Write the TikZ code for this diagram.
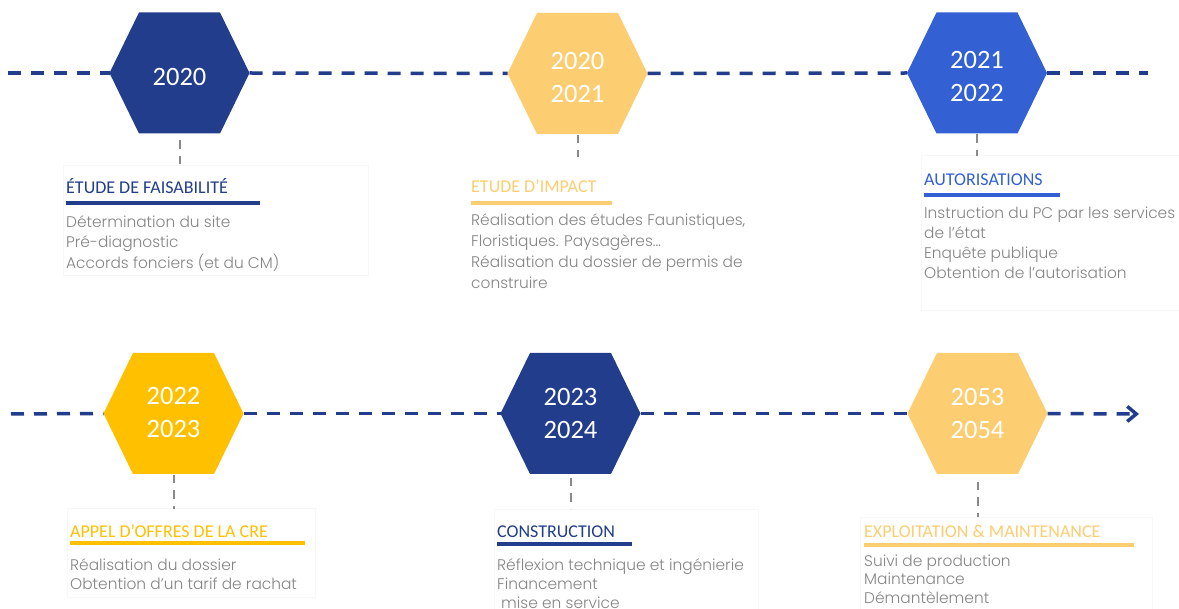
\documentclass[tikz,border=0pt]{standalone}
\usepackage{fontspec}
\setmainfont{Carlito}
\newfontfamily\bodyfont{Poppins Light}
\usetikzlibrary{arrows.meta,calc}
\definecolor{navy}{HTML}{213D8B}
\definecolor{sand}{HTML}{FDCD72}
\definecolor{royal}{HTML}{3360D3}
\definecolor{gold}{HTML}{FFC000}
\definecolor{linkgray}{HTML}{8A8A8A}
\definecolor{bodygray}{HTML}{858585}
\newcommand\hexa[6]{%
  \node[hexframe] (#1) at (#2,#3) {};
  \fill[#4] (#1.west) -- ([xshift=29.5pt]#1.north west) -- ([xshift=-29.5pt]#1.north east)
    -- (#1.east) -- ([xshift=-29.5pt]#1.south east) -- ([xshift=29.5pt]#1.south west) -- cycle;
  \node[yeartext] (#1y) at ([yshift=#6]#1.center) {#5};
}
\newcommand\bodylines[2]{{\bodyfont\fontsize{15.4}{#1}\selectfont\begin{tabular}[t]{@{}l@{}}#2\end{tabular}}}
\tikzset{
  timeline/.style={draw=navy,line width=3.5pt,dash pattern=on 13pt off 10pt},
  connector/.style={draw=linkgray,line width=2pt,dash pattern=on 8.5pt off 7pt},
  hexframe/.style={minimum width=140pt,minimum height=121pt,inner sep=0pt,outer sep=0pt},
  yeartext/.style={text=white,font=\fontsize{26.5}{33}\selectfont,align=center,inner sep=0pt},
  titletext/.style={anchor=base west,inner sep=0pt,font=\fontsize{18}{20}\selectfont},
  bodytext/.style={anchor=base west,inner sep=0pt,text=bodygray},
  bar/.style={line width=4pt},
  faint/.style={draw=black!3,line width=0.6pt}
}
\begin{document}
\begin{tikzpicture}[x=1pt,y=-1pt]
\useasboundingbox[fill=white] (0,0) rectangle (1179,609);
% faint frames
\draw[faint] (63,165) rectangle (368,275);
\draw[faint] (921,155) rectangle (1190,310);
\draw[faint] (67,508) rectangle (315,597);
\draw[faint] (494,509) rectangle (758,620);
\draw[faint] (860,517) rectangle (1152,620);
% hexagons
\hexa{h1}{179.5}{73}{navy}{2020}{-3.5pt}
\hexa{h2}{577.5}{73.5}{sand}{2020\\2021}{-3.5pt}
\hexa{h3}{977}{73}{royal}{2021\\2022}{-3.5pt}
\hexa{h4}{173.5}{413.5}{gold}{2022\\2023}{1.5pt}
\hexa{h5}{570.5}{413.5}{navy}{2023\\2024}{0pt}
\hexa{h6}{977.5}{413.5}{sand}{2053\\2054}{0pt}
% timelines
\coordinate (s1) at (8,73);
\coordinate (e1) at (1148,73);
\coordinate (s2) at (11,414);
\coordinate (e2) at (1139,414);
\draw[timeline] (s1) -- (h1.west);
\draw[timeline] (h1.east) -- (h2.west);
\draw[timeline] (h2.east) -- (h3.west);
\draw[timeline] (h3.east) -- (e1);
\draw[timeline] (s2) -- (h4.west);
\draw[timeline] (h4.east) -- (h5.west);
\draw[timeline] (h5.east) -- (h6.west);
\draw[timeline,-{Straight Barb[length=9pt,width=15pt]}] (h6.east) -- (e2);
% titles
\node[titletext,text=navy] (t1) at (66,194) {ÉTUDE DE FAISABILITÉ};
\node[titletext,text=sand] (t2) at (471,193) {ETUDE D’IMPACT};
\node[titletext,text=royal] (t3) at (924,186) {AUTORISATIONS};
\node[titletext,text=gold] (t4) at (70,537) {APPEL D’OFFRES DE LA CRE};
\node[titletext,text=navy] (t5) at (497,537) {CONSTRUCTION};
\node[titletext,text=sand] (t6) at (864,538) {EXPLOITATION \& MAINTENANCE};
% bars
\draw[bar,navy] (66,203) -- (260,203);
\draw[bar,sand] (471,203) -- (612,203);
\draw[bar,royal] (924,195) -- (1060,195);
\draw[bar,gold] (70,543) -- (305,543);
\draw[bar,navy] (497,544) -- (632,544);
\draw[bar,sand] (864,545) -- (1134,545);
% connectors
\coordinate (c1) at ($(h1.south)+(0,31)$);
\coordinate (c2) at ($(h2.south)+(0,23)$);
\coordinate (c3) at ($(h3.south)+(0,23)$);
\coordinate (c4) at ($(h4.south)+(0,35)$);
\coordinate (c5) at ($(h5.south)+(0,35)$);
\coordinate (c6) at ($(h6.south)+(0,43)$);
\draw[connector,shorten <=7pt] (h1.south) -- (c1);
\draw[connector,shorten <=1pt] (h2.south) -- (c2);
\draw[connector,shorten <=1pt] (h3.south) -- (c3);
\draw[connector,shorten <=1pt] (h4.south) -- (c4);
\draw[connector,shorten <=4pt] (h5.south) -- (c5);
\draw[connector,shorten <=8pt] (h6.south) -- (c6);
% body texts
\node[bodytext] (d1) at (66,228) {\bodylines{20}{Détermination du site\\Pré-diagnostic\\Accords fonciers (et du CM)}};
\node[bodytext] (d2) at (471,226) {\bodylines{20.7}{Réalisation des études Faunistiques,\\Floristiques. Paysagères…\\Réalisation du dossier de permis de\\construire}};
\node[bodytext] (d3) at (924,219) {\bodylines{20}{Instruction du PC par les services\\de l’état\\Enquête publique\\Obtention de l’autorisation}};
\node[bodytext] (d4) at (70,570) {\bodylines{19.5}{Réalisation du dossier\\Obtention d’un tarif de rachat}};
\node[bodytext] (d5) at (497,571) {\bodylines{19}{Réflexion technique et ingénierie\\Financement\\\hspace{4pt}mise en service}};
\node[bodytext] (d6) at (864,566) {\bodylines{18.5}{Suivi de production\\Maintenance\\Démantèlement}};
\end{tikzpicture}
\end{document}
